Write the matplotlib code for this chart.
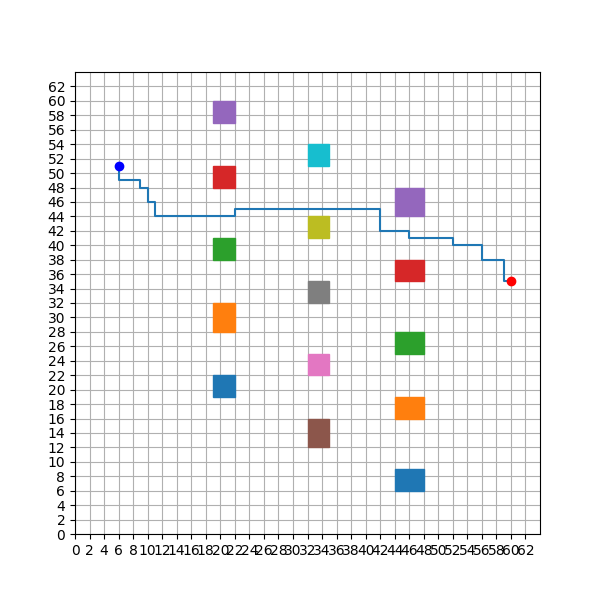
import matplotlib
matplotlib.use("Agg")
from matplotlib import pyplot as plt
from matplotlib.patches import Rectangle

# obstacles: (x, y, width, height)
obstacles_x = [19, 19, 19, 19, 19, 32, 32, 32, 32, 32, 44, 44, 44, 44, 44]
obstacles_y = [19, 28, 38, 48, 57, 12, 22, 32, 41, 51, 6, 16, 25, 35, 44]
obstacles_w = [3, 3, 3, 3, 3, 3, 3, 3, 3, 3, 4, 4, 4, 4, 4]
obstacles_h = [3, 4, 3, 3, 3, 4, 3, 3, 3, 3, 3, 3, 3, 3, 4]

# path corners
path_x = [6, 6, 9, 9, 10, 10, 11, 11, 22, 22, 42, 42, 46, 46, 52, 52, 56, 56, 59, 59, 60]
path_y = [51, 49, 49, 48, 48, 46, 46, 44, 44, 45, 45, 42, 42, 41, 41, 40, 40, 38, 38, 35, 35]

start = (6, 51)
goal = (60, 35)
size = 64

fig, ax = plt.subplots(figsize=(6, 6), dpi=100)

for i in range(len(obstacles_x)):
    ax.add_patch(Rectangle((obstacles_x[i], obstacles_y[i]), obstacles_w[i], obstacles_h[i],
                           color=f"C{i % 10}", zorder=2))

ax.plot(path_x, path_y, color="C0", zorder=3)
ax.plot(start[0], start[1], "bo", zorder=4)
ax.plot(goal[0], goal[1], "ro", zorder=4)

ax.set_xlim(0, size)
ax.set_ylim(0, size)
ax.set_xticks(range(0, size, 2))
ax.set_yticks(range(0, size, 2))
ax.grid(True, zorder=1)

plt.savefig("out.png")
